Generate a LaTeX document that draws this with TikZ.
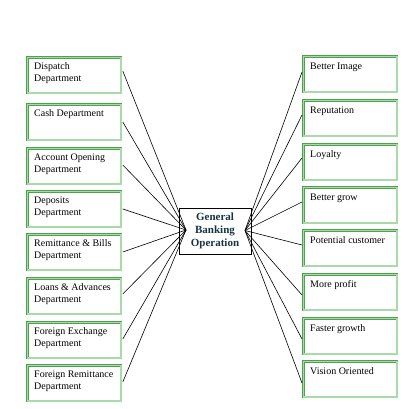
\documentclass[tikz,border=0pt]{standalone}
\usepackage{fontspec}
\setmainfont{Liberation Serif}
\definecolor{gline}{HTML}{4EA24E}
\definecolor{gfill}{HTML}{A9DAA9}
\definecolor{ctext}{HTML}{173440}
\begin{document}
\begin{tikzpicture}[x=1pt,y=-1pt,
  box/.style={draw=gline, double=gfill, double distance=1.2pt, line width=0.8pt,
    minimum width=93.2pt, minimum height=35.2pt, inner sep=0pt, anchor=north west, fill=white},
  lbl/.style={font=\fontsize{10}{11.7}\selectfont, align=left, inner sep=0pt, anchor=north west},
  hub/.style={draw=black, line width=0.8pt, minimum width=72pt, minimum height=46pt, inner sep=0pt,
    align=center, text=ctext, font=\fontsize{11}{12.7}\selectfont\bfseries},
  conn/.style={draw=black, line width=0.6pt}]
\useasboundingbox (0,0) rectangle (410,409);

% central box
\node[hub] (c) at (215,231) {General\\Banking\\Operation};
\coordinate (cl) at (186,230);
\coordinate (cr) at (245,230.5);

% left boxes
\foreach \i/\t/\txt in {1/56/{Dispatch\\Department}, 2/103/{Cash Department}, 3/147/{Account Opening\\Department},
  4/190/{Deposits\\Department}, 5/233/{Remittance \& Bills\\Department}, 6/277/{Loans \& Advances\\Department},
  7/321/{Foreign Exchange\\Department}, 8/364/{Foreign Remittance\\Department}}{
  \node[box] (l\i) at (27.4,\t+1.4) {};
  \node[lbl] (lt\i) at ([xshift=6.6pt,yshift=-4.2pt]l\i.north west) {\strut\txt};
}
% right boxes
\foreach \i/\t/\txt in {1/55/{Better Image}, 2/99/{Reputation}, 3/143/{Loyalty}, 4/186/{Better grow},
  5/229/{Potential customer}, 6/273/{More profit}, 7/317/{Faster growth}, 8/360/{Vision Oriented}}{
  \node[box] (r\i) at (303.4,\t+1.4) {};
  \node[lbl] (rt\i) at ([xshift=6.6pt,yshift=-5.2pt]r\i.north west) {\strut\txt};
}

% connectors left
\foreach \i/\s in {1/-13.6, 2/-17.6, 3/-16.6, 4/-17.6, 5/-17.6, 6/-15.6, 7/-16.6, 8/-16.6}{
  \draw[conn] ([xshift=1.4pt,yshift=\s pt]l\i.north east) -- (cl);
}
% connectors right
\foreach \i/\s in {1/-15.6, 2/-14.6, 3/-13.6, 4/-14.6, 5/-14.6, 6/-20.6, 7/-20.6, 8/-21.6}{
  \draw[conn] (cr) -- ([xshift=-1.4pt,yshift=\s pt]r\i.north west);
}
\end{tikzpicture}
\end{document}
